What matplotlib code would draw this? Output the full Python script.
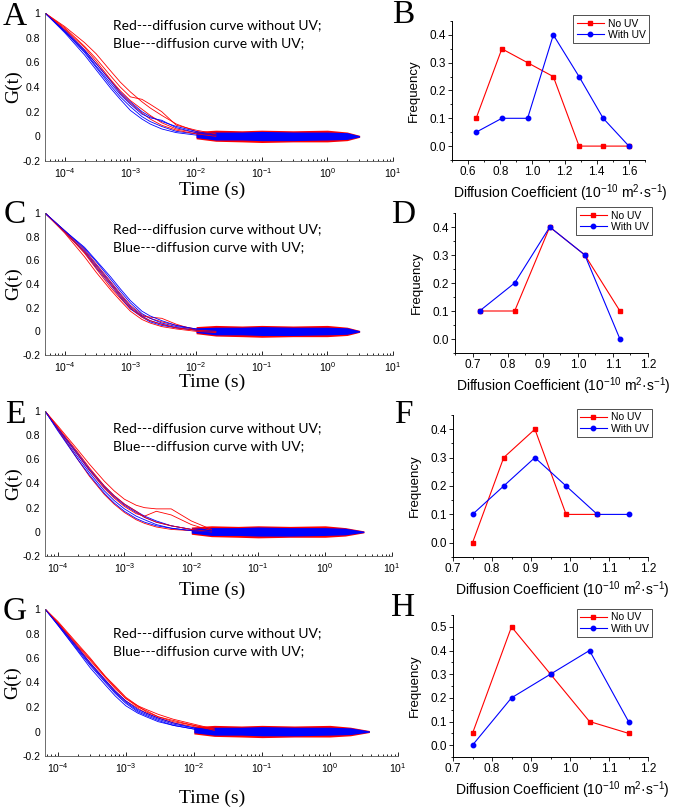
# FCS diffusion curves (left) and diffusion coefficient histograms (right)
import numpy as np
import matplotlib.pyplot as plt
from matplotlib.ticker import MultipleLocator, FixedFormatter, LogLocator, NullFormatter

plt.rcParams['font.family'] = ['Liberation Sans', 'DejaVu Sans']
plt.rcParams['mathtext.fontset'] = 'custom'
plt.rcParams['mathtext.rm'] = 'Liberation Sans'
plt.rcParams['mathtext.it'] = 'Liberation Sans:italic'
plt.rcParams['mathtext.bf'] = 'Liberation Sans:bold'

t_ac = [5e-5, 1e-4, 2e-4, 3e-4, 5e-4, 7e-4, 1e-3, 1.5e-3, 2e-3, 3e-3, 5e-3, 1e-2, 2e-2]
t_eg = [6.5e-5, 1e-4, 2e-4, 3e-4, 5e-4, 7e-4, 1e-3, 1.5e-3, 2e-3, 3e-3, 5e-3, 1e-2, 2e-2]

red_A = [[1, 0.89, 0.76, 0.67, 0.53, 0.44, 0.36, 0.28, 0.23, 0.17, 0.10, 0.04, 0.01],
         [1, 0.88, 0.73, 0.63, 0.49, 0.40, 0.32, 0.30, 0.26, 0.20, 0.09, 0.05, 0.02],
         [1, 0.86, 0.70, 0.59, 0.45, 0.35, 0.27, 0.19, 0.14, 0.09, 0.05, 0.02, 0.00],
         [1, 0.87, 0.72, 0.61, 0.46, 0.37, 0.29, 0.22, 0.17, 0.11, 0.06, 0.03, 0.01]]
blue_A = [[1, 0.85, 0.68, 0.56, 0.41, 0.32, 0.24, 0.16, 0.12, 0.08, 0.04, 0.02, 0.00],
          [1, 0.84, 0.66, 0.54, 0.39, 0.30, 0.21, 0.14, 0.10, 0.06, 0.03, 0.01, 0.00],
          [1, 0.86, 0.70, 0.59, 0.45, 0.36, 0.28, 0.20, 0.16, 0.12, 0.08, 0.04, 0.01],
          [1, 0.85, 0.69, 0.57, 0.43, 0.34, 0.26, 0.18, 0.15, 0.13, 0.07, 0.03, 0.01]]

red_C = [[1, 0.85, 0.69, 0.57, 0.42, 0.32, 0.22, 0.14, 0.11, 0.08, 0.05, 0.02, 0.00],
         [1, 0.84, 0.66, 0.53, 0.37, 0.28, 0.19, 0.13, 0.12, 0.11, 0.06, 0.01, 0.00],
         [1, 0.83, 0.63, 0.50, 0.35, 0.26, 0.17, 0.10, 0.07, 0.04, 0.02, 0.00, -0.01],
         [1, 0.84, 0.67, 0.55, 0.40, 0.30, 0.20, 0.12, 0.09, 0.06, 0.03, 0.01, 0.00]]
blue_C = [[1, 0.85, 0.70, 0.59, 0.44, 0.34, 0.24, 0.15, 0.11, 0.07, 0.04, 0.02, 0.00],
          [1, 0.84, 0.68, 0.56, 0.41, 0.31, 0.21, 0.13, 0.09, 0.06, 0.03, 0.01, 0.00],
          [1, 0.84, 0.67, 0.54, 0.39, 0.29, 0.19, 0.12, 0.08, 0.05, 0.03, 0.01, 0.00],
          [1, 0.85, 0.71, 0.60, 0.46, 0.36, 0.26, 0.17, 0.13, 0.09, 0.05, 0.02, 0.01]]

red_E = [[1, 0.88, 0.68, 0.56, 0.42, 0.34, 0.27, 0.22, 0.20, 0.19, 0.19, 0.09, 0.02],
         [1, 0.86, 0.64, 0.51, 0.36, 0.28, 0.21, 0.15, 0.13, 0.17, 0.14, 0.06, 0.01],
         [1, 0.85, 0.60, 0.46, 0.31, 0.23, 0.16, 0.10, 0.07, 0.04, 0.02, 0.01, 0.00],
         [1, 0.87, 0.66, 0.53, 0.38, 0.30, 0.23, 0.17, 0.12, 0.08, 0.05, 0.02, 0.00]]
blue_E = [[1, 0.86, 0.64, 0.51, 0.37, 0.29, 0.22, 0.16, 0.12, 0.08, 0.05, 0.02, 0.00],
          [1, 0.85, 0.62, 0.49, 0.34, 0.26, 0.19, 0.13, 0.10, 0.06, 0.03, 0.01, 0.00],
          [1, 0.86, 0.65, 0.52, 0.38, 0.30, 0.23, 0.17, 0.13, 0.09, 0.05, 0.02, 0.01],
          [1, 0.84, 0.60, 0.47, 0.32, 0.24, 0.17, 0.11, 0.08, 0.05, 0.03, 0.01, 0.00]]

red_G = [[1, 0.90, 0.71, 0.60, 0.45, 0.37, 0.28, 0.21, 0.18, 0.14, 0.10, 0.06, 0.02],
         [1, 0.89, 0.69, 0.58, 0.44, 0.35, 0.27, 0.20, 0.17, 0.12, 0.08, 0.05, 0.02],
         [1, 0.88, 0.68, 0.56, 0.42, 0.33, 0.25, 0.19, 0.15, 0.11, 0.07, 0.04, 0.01],
         [1, 0.89, 0.70, 0.59, 0.45, 0.36, 0.27, 0.21, 0.16, 0.12, 0.09, 0.05, 0.01]]
blue_G = [[1, 0.88, 0.67, 0.55, 0.41, 0.32, 0.24, 0.17, 0.14, 0.10, 0.06, 0.03, 0.01],
          [1, 0.87, 0.66, 0.54, 0.40, 0.31, 0.23, 0.16, 0.13, 0.09, 0.05, 0.02, 0.00],
          [1, 0.88, 0.68, 0.56, 0.42, 0.33, 0.25, 0.18, 0.15, 0.11, 0.07, 0.03, 0.01],
          [1, 0.87, 0.65, 0.52, 0.38, 0.29, 0.21, 0.15, 0.12, 0.08, 0.05, 0.02, 0.00]]

# noisy baseline (tail) envelopes
tail_t_A = [1e-2, 2e-2, 5e-2, 0.1, 0.3, 1, 2, 3.1]
tail_t_C = [1e-2, 2e-2, 5e-2, 0.1, 0.3, 1, 2, 3.1]
tail_t_E = [1e-2, 2e-2, 5e-2, 0.1, 0.3, 1, 2, 3.8]
tail_t_G = [1e-2, 2e-2, 5e-2, 0.1, 0.3, 1, 2, 3.8]
red_hi = [0.04, 0.05, 0.045, 0.05, 0.045, 0.05, 0.035, 0.008]
red_lo = [-0.02, -0.04, -0.045, -0.05, -0.045, -0.045, -0.035, -0.008]
blue_hi = [0.03, 0.035, 0.035, 0.04, 0.035, 0.035, 0.03, 0.005]
blue_lo = [-0.01, -0.03, -0.03, -0.035, -0.035, -0.03, -0.025, -0.005]

# ---- histograms ----
dB = [0.65, 0.81, 0.97, 1.13, 1.29, 1.44, 1.60]
noUV_B = [0.10, 0.35, 0.30, 0.25, 0.0, 0.0, 0.0]
dB_uv = [0.65, 0.81, 0.97, 1.13, 1.29, 1.44, 1.60]
UV_B = [0.05, 0.10, 0.10, 0.40, 0.25, 0.10, 0.0]

dD = [0.72, 0.82, 0.92, 1.02, 1.12]
noUV_D = [0.1, 0.1, 0.4, 0.3, 0.1]
dD_uv = [0.72, 0.82, 0.92, 1.02, 1.12]
UV_D = [0.1, 0.2, 0.4, 0.3, 0.0]

dF = [0.75, 0.83, 0.91, 0.99, 1.07]
noUV_F = [0.0, 0.3, 0.4, 0.1, 0.1]
dF_uv = [0.75, 0.83, 0.91, 0.99, 1.07, 1.15]
UV_F = [0.1, 0.2, 0.3, 0.2, 0.1, 0.1]

dH = [0.75, 0.85, 0.95, 1.05, 1.15]
noUV_H = [0.05, 0.5, 0.3, 0.1, 0.05]
dH_uv = [0.75, 0.85, 0.95, 1.05, 1.15]
UV_H = [0.0, 0.2, 0.3, 0.4, 0.1]

W, H = 675, 808
fig = plt.figure(figsize=(6.75, 8.08), dpi=100)


def rect(x0, y0, x1, y1):
    return [x0 / W, 1 - y1 / H, (x1 - x0) / W, (y1 - y0) / H]


left_panels = [
    ('A', rect(45, 13, 393, 161), t_ac, red_A, blue_A, tail_t_A, 5e-5, 190, 25),
    ('C', rect(45, 213, 393, 355), t_ac, red_C, blue_C, tail_t_C, 5e-5, 382, 229),
    ('E', rect(45, 411, 392, 556), t_eg, red_E, blue_E, tail_t_E, 6.5e-5, 590, 428),
    ('G', rect(45, 609, 398, 756), t_eg, red_G, blue_G, tail_t_G, 6.5e-5, 798, 633),
]
letter_y = {'A': 17, 'C': 215, 'E': 415, 'G': 612}

for name, r, t, reds, blues, tt, x0, time_y, note_y in left_panels:
    ax = fig.add_axes(r)
    ax.fill_between(tt, red_lo, red_hi, color='red', lw=0)
    ax.fill_between(tt, blue_lo, blue_hi, color='blue', lw=0)
    for k in range(4):
        ax.plot(t, reds[k], color='red', lw=0.6)
        ax.plot(t, blues[k], color='blue', lw=0.6)
    ax.set_xscale('log')
    ax.set_xlim(x0, 10)
    ax.set_ylim(-0.2, 1)
    ax.set_yticks([-0.2, 0, 0.2, 0.4, 0.6, 0.8, 1])
    ax.set_yticklabels(['-0.2', '0', '0.2', '0.4', '0.6', '0.8', '1'])
    ax.xaxis.set_minor_locator(LogLocator(base=10, subs=np.arange(2, 10)))
    ax.xaxis.set_minor_formatter(NullFormatter())
    ax.tick_params(which='both', direction='in', labelsize=7.5, width=0.6)
    ax.tick_params(which='major', length=3)
    ax.tick_params(which='minor', length=1.5)
    ax.tick_params(axis='y', which='major', length=0)
    for s in ['top', 'right']:
        ax.spines[s].set_visible(False)
    for s in ['left', 'bottom']:
        ax.spines[s].set_linewidth(0.6)
        ax.spines[s].set_color('#555555')
    ax.set_ylabel('G(t)', family='Liberation Serif', fontsize=14)
    ax.yaxis.set_label_coords(-0.066, 0.5)
    fig.text(212 / W, 1 - time_y / H, 'Time (s)', family='Liberation Serif',
             fontsize=14, ha='center', va='center')
    fig.text(113 / W, 1 - note_y / H, 'Red---diffusion curve without UV;',
             family='Lato', fontsize=10, va='center')
    fig.text(113 / W, 1 - (note_y + 18) / H, 'Blue---diffusion curve with UV;',
             family='Lato', fontsize=10, va='center')
    fig.text(15 / W, 1 - letter_y[name] / H, name, family='Liberation Serif',
             fontsize=24, ha='center', va='center')

right_panels = [
    ('B', rect(452, 21, 645, 160), dB, noUV_B, dB_uv, UV_B, (0.5, 1.7), (-0.05, 0.45),
     [0.6, 0.8, 1.0, 1.2, 1.4, 1.6], 0.1, 0.5),
    ('D', rect(455, 213, 648, 353), dD, noUV_D, dD_uv, UV_D, (0.65, 1.2), (-0.05, 0.45),
     [0.7, 0.8, 0.9, 1.0, 1.1, 1.2], 0.05, 0.5),
    ('F', rect(453, 415, 648, 557), dF, noUV_F, dF_uv, UV_F, (0.7, 1.2), (-0.05, 0.45),
     [0.7, 0.8, 0.9, 1.0, 1.1, 1.2], 0.05, 0.5),
    ('H', rect(453, 615, 648, 757), dH, noUV_H, dH_uv, UV_H, (0.7, 1.2), (-0.05, 0.55),
     [0.7, 0.8, 0.9, 1.0, 1.1, 1.2], 0.05, 0.6),
]
rletter_y = {'B': 15, 'D': 215, 'F': 415, 'H': 608}

for name, r, x1, y1, x2, y2, xl, yl, xt, xminor, ytop in right_panels:
    ax = fig.add_axes(r)
    ax.plot(x1, y1, color='red', lw=0.8, marker='s', ms=3.2, label='No UV')
    ax.plot(x2, y2, color='blue', lw=0.8, marker='o', ms=3.2, label='With UV')
    ax.set_xlim(*xl)
    ax.set_ylim(*yl)
    ax.set_xticks(xt)
    ax.set_xticklabels(['%.1f' % v for v in xt])
    ax.xaxis.set_minor_locator(MultipleLocator(xminor))
    ax.set_yticks(np.arange(0, ytop, 0.1))
    ax.yaxis.set_major_formatter(FixedFormatter(['%.1f' % v for v in np.arange(0, ytop, 0.1)]))
    ax.yaxis.set_minor_locator(MultipleLocator(0.05))
    ax.tick_params(which='both', direction='out', labelsize=8.5, width=0.6, pad=1.5)
    ax.tick_params(which='major', length=3)
    ax.tick_params(which='minor', length=1.5)
    for s in ['top', 'right']:
        ax.spines[s].set_visible(False)
    for s in ['left', 'bottom']:
        ax.spines[s].set_linewidth(0.7)
    ax.set_ylabel('Frequency', fontsize=9.5)
    ax.yaxis.set_label_coords(-0.165, 0.5)
    ax.set_xlabel('Diffusion Coefficient (10$^{-10}$ m$^{2}$\u00b7s$^{-1}$)', fontsize=10)
    ax.xaxis.set_label_coords(0.56, -0.16)
    leg = ax.legend(loc='upper right', bbox_to_anchor=(1.02, 1.04), fontsize=7.5,
                    frameon=True, fancybox=False, edgecolor='black', handlelength=2.6,
                    borderpad=0.3, labelspacing=0.15, handletextpad=0.4, borderaxespad=0)
    leg.get_frame().set_linewidth(0.6)
    fig.text(403 / W, 1 - rletter_y[name] / H, name, family='Liberation Serif',
             fontsize=24, ha='center', va='center')

fig.savefig('out.png', dpi=100)
